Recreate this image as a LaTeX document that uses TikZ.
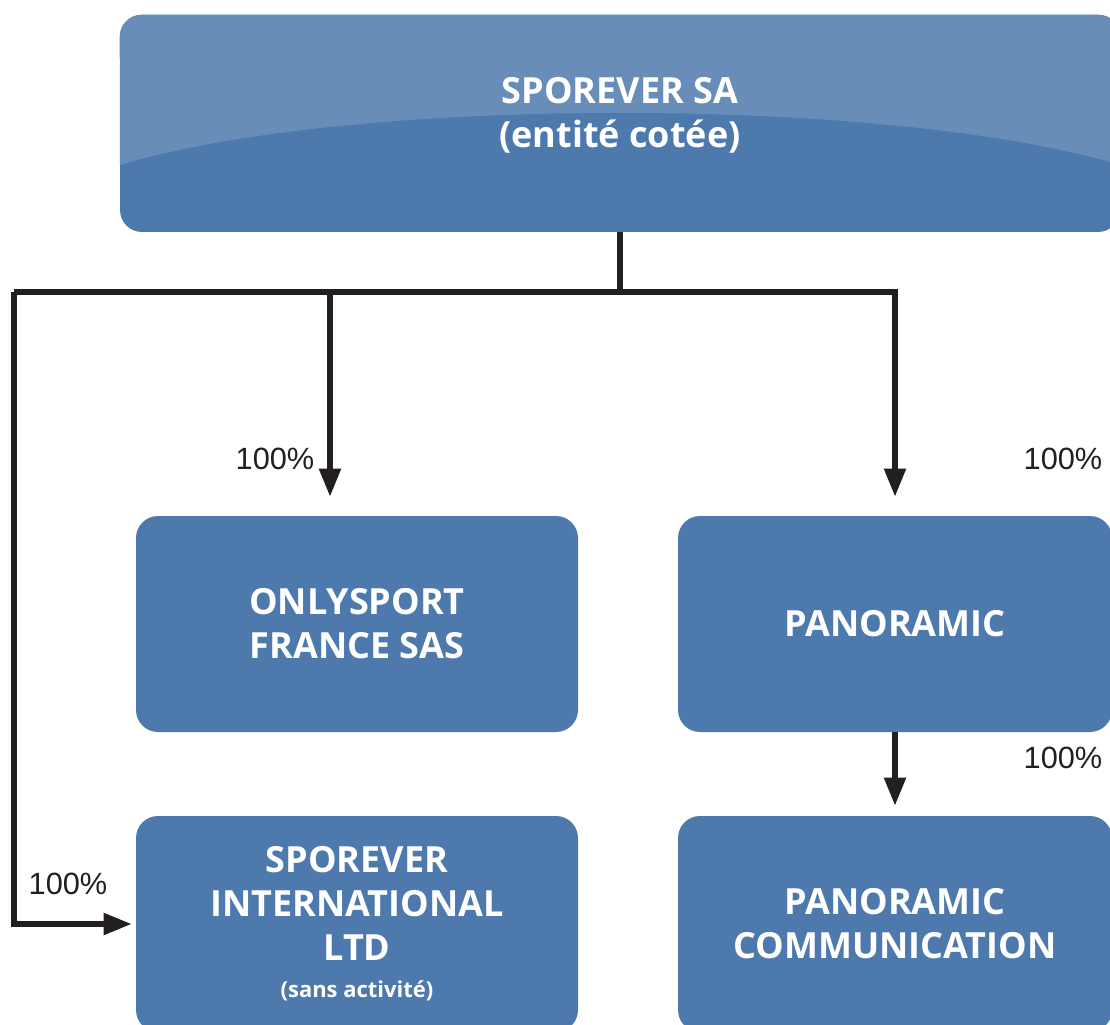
\documentclass[tikz,border=0pt]{standalone}
\usepackage{fontspec}
\setmainfont{Liberation Sans}
\newfontfamily\boxfont{Open Sans}
\usetikzlibrary{arrows.meta}

\definecolor{boxblue}{RGB}{78,121,173}
\definecolor{paleblue}{RGB}{103,141,184}
\definecolor{linegray}{RGB}{35,31,32}

\tikzset{
  entity/.style={rounded corners=0.44cm, fill=boxblue, inner sep=0pt},
  entitytext/.style={text=white, align=center, font=\boxfont\bfseries\fontsize{20.5}{25}\selectfont},
  link/.style={draw=linegray, line width=3pt},
  owns/.style={link, -{Triangle[length=0.56cm,width=0.42cm]}},
  share/.style={text=linegray, font=\fontsize{17.5}{20}\selectfont}
}

\begin{document}
\begin{tikzpicture}
                \useasboundingbox (0,0) rectangle (22.2,-20.5);

                \node[entity,minimum width=20cm,minimum height=4.34cm] (top) at (12.4,-2.47) {};
                \begin{scope}
                    \clip[rounded corners=0.44cm] (top.south west) rectangle (top.north east);
                    \fill[paleblue] (top.north west) -- (2.4,-3.3) .. controls (7,-1.91) and (17.8,-1.91) .. (22.4,-3.3) -- (top.north east) -- cycle;
                \end{scope}
                \node[entitytext] (toptext) at (12.4,-2.3) {SPOREVER SA\\(entité cotée)};

                \node[entity,entitytext,minimum width=8.84cm,minimum height=4.32cm] (only) at (7.14,-12.48) {ONLYSPORT\\FRANCE SAS};
                \node[entity,entitytext,minimum width=8.68cm,minimum height=4.32cm] (pano) at (17.9,-12.48) {PANORAMIC};
                \node[entity,entitytext,minimum width=8.84cm,minimum height=4.32cm] (intl) at (7.14,-18.48) {SPOREVER\\INTERNATIONAL\\LTD\\[-4pt]{\fontsize{12.5}{15}\selectfont (sans activité)}};
                \node[entity,entitytext,minimum width=8.68cm,minimum height=4.32cm] (comm) at (17.9,-18.48) {PANORAMIC\\COMMUNICATION};

                \coordinate (hub) at (12.4,-5.84);
                \coordinate (fork) at (6.6,-5.84);
                \coordinate (corner) at (0.28,-5.84);

                \draw[link] (top.south) -- (hub);
                \draw[link] (hub) -- (corner);
                \draw[owns,shorten >=0.38cm] (hub) -| (pano.north);
                \draw[owns,shorten >=0.38cm] (fork) -- (fork |- only.north);
                \draw[owns,shorten >=0.08cm] (corner) |- (intl.west);
                \draw[owns,shorten >=0.2cm] (pano.south) -- (comm.north);

                \node[share] (p1) at (5.5,-9.18) {100\%};
                \node[share] (p2) at (21.26,-9.18) {100\%};
                \node[share] (p3) at (21.26,-15.16) {100\%};
                \node[share] (p4) at (1.36,-17.68) {100\%};
            \end{tikzpicture}
\end{document}
